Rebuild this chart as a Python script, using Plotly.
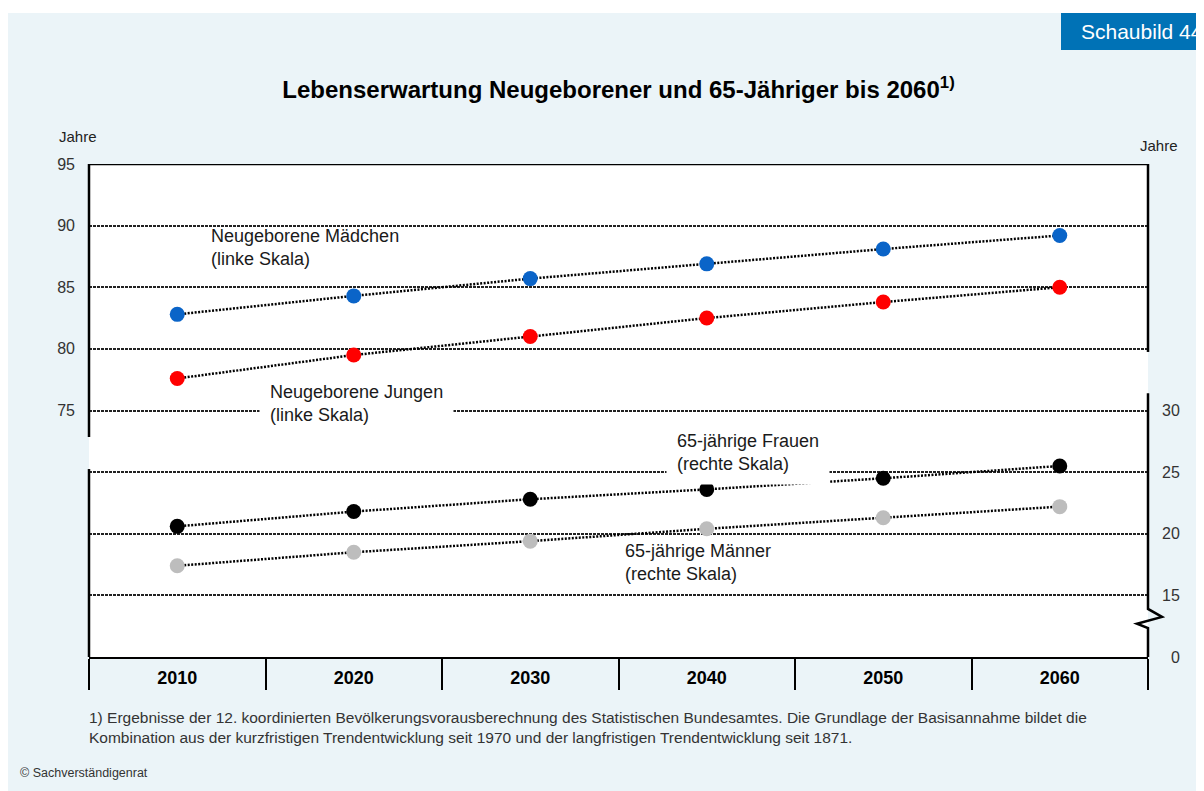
import plotly.graph_objects as go

years = ['2010', '2020', '2030', '2040', '2050', '2060']
maedchen = [82.8, 84.3, 85.7, 86.9, 88.1, 89.2]
jungen = [77.6, 79.5, 81.0, 82.5, 83.8, 85.0]
frauen_65 = [20.6, 21.8, 22.8, 23.6, 24.5, 25.5]
maenner_65 = [17.4, 18.5, 19.4, 20.4, 21.3, 22.2]

left_ticks = [75, 80, 85, 90, 95]
right_ticks = [10, 15, 20, 25, 30]
right_labels = ['\u20070', '15', '20', '25', '30']
lower_grid = [60, 65, 70]

# page offset of the figure (body margin) and plot area in page pixels
OFF = 8
W, H = 1204 - OFF, 791 - OFF
L, R, T, B = 89, 1148, 164, 657


def px(x):
    return (x - L) / (R - L)


def py(y):
    return (B - y) / (B - T)


fig = go.Figure()


def add_series(vals, color, axis):
    fig.add_trace(go.Scatter(
        x=years, y=vals, yaxis=axis,
        mode='lines+markers',
        line=dict(color='black', width=2.5, dash='2px,1.5px'),
        marker=dict(color=color, size=15),
        showlegend=False, hoverinfo='skip',
    ))


add_series(maedchen, '#0A64C8', 'y')
add_series(jungen, '#FF0000', 'y')
add_series(frauen_65, '#000000', 'y2')
add_series(maenner_65, '#BDBDBD', 'y2')

txt = dict(family='Liberation Sans, Arial, sans-serif', size=18, color='#1a1a1a')
labels = [
    ('Neugeborene Mädchen<br>(linke Skala)', 200, 247, None),
    ('Neugeborene Jungen<br>(linke Skala)', 259, 403, 'white'),
    ('65-jährige Frauen<br>(rechte Skala)', 666, 452, 'white'),
    ('65-jährige Männer<br>(rechte Skala)', 614, 562, None),
]
for text, x, y, bg in labels:
    fig.add_annotation(
        text=text, xref='paper', yref='paper', x=px(x), y=py(y),
        xanchor='left', yanchor='middle', align='left', showarrow=False,
        font=txt, bgcolor=bg, borderpad=10,
    )

fig.add_annotation(text='Jahre', xref='paper', yref='paper', x=px(57), y=py(137),
                   xanchor='left', yanchor='middle', showarrow=False,
                   font=dict(size=15, color='#222'))
fig.add_annotation(text='Jahre', xref='paper', yref='paper', x=px(1138), y=py(145),
                   xanchor='left', yanchor='middle', showarrow=False,
                   font=dict(size=15, color='#222'))

fig.add_annotation(
    text='1) Ergebnisse der 12. koordinierten Bevölkerungsvorausberechnung des Statistischen '
         'Bundesamtes. Die Grundlage der Basisannahme bildet die<br>Kombination aus der '
         'kurzfristigen Trendentwicklung seit 1970 und der langfristigen Trendentwicklung seit 1871.',
    xref='paper', yref='paper', x=px(87), y=py(707), xanchor='left', yanchor='top',
    align='left', showarrow=False, font=dict(size=15.5, color='#333'),
)
fig.add_annotation(text='© Sachverständigenrat', xref='paper', yref='paper',
                   x=px(18), y=py(773), xanchor='left', yanchor='middle',
                   showarrow=False, font=dict(size=12.5, color='#333'))

# badge
fig.add_shape(type='rect', xref='paper', yref='paper', x0=px(1061), x1=px(1215),
              y0=py(13), y1=py(50), fillcolor='#0072B6', line_width=0, layer='below')
fig.add_annotation(text='Schaubild 44', xref='paper', yref='paper', x=px(1079), y=py(32),
                   xanchor='left', yanchor='middle', showarrow=False,
                   font=dict(size=21, color='white'))

# white strip above the panel
fig.add_shape(type='rect', xref='paper', yref='paper', x0=px(0), x1=px(1215),
              y0=py(0), y1=py(13), fillcolor='white', line_width=0, layer='below')

# frame and broken axes
ax = dict(color='black', width=2.5)
fig.add_shape(type='line', xref='paper', yref='y', x0=0, x1=1, y0=95, y1=95, line=ax)
fig.add_shape(type='line', xref='paper', yref='y', x0=0, x1=0, y0=95, y1=72.85, line=ax)
fig.add_shape(type='line', xref='paper', yref='y', x0=0, x1=0, y0=70.25, y1=55, line=ax)
fig.add_shape(type='line', xref='paper', yref='y', x0=1, x1=1, y0=95, y1=79.75, line=ax)
fig.add_shape(type='path', xref='paper', yref='y', xsizemode='pixel', xanchor=1,
              path='M0,76.4 L0,58.9 L14,58.25 L-11,57.7 L0,57.35 L0,55', line=ax)

grid = dict(showgrid=True, gridcolor='#222', gridwidth=1.5, griddash='3px,1px')

fig.update_layout(
    width=W, height=H,
    margin=dict(l=L - OFF, r=W - (R - OFF), t=T - OFF, b=H - (B - OFF)),
    paper_bgcolor='#EBF4F8', plot_bgcolor='white',
    font=dict(family='Liberation Sans, Arial, sans-serif', color='#222'),
    title=dict(text='Lebenserwartung Neugeborener und 65-Jähriger bis 2060<sup>1)</sup>',
               x=0.5, xref='paper', xanchor='center', y=1 - (90 - OFF) / H, yref='container',
               yanchor='middle', font=dict(size=24, color='black', weight='bold')),
    showlegend=False,
    xaxis=dict(type='category', range=[-0.5, 5.5], showline=True, linecolor='black',
               linewidth=1.5, ticks='outside', tickson='boundaries', ticklen=31,
               tickwidth=2, tickcolor='black', ticklabelstandoff=4,
               tickfont=dict(size=18, color='black', weight='bold'),
               showgrid=False, zeroline=False),
    yaxis=dict(range=[55, 95], tickvals=left_ticks, **grid,
               showline=False, zeroline=False, ticks='', ticklabelstandoff=13,
               tickfont=dict(size=16, color='#333')),
    yaxis2=dict(overlaying='y', side='right', range=[10, 50], tickvals=right_ticks,
                ticktext=right_labels, showgrid=False, zeroline=False, showline=False,
                ticks='', ticklabelstandoff=13, tickfont=dict(size=16, color='#333')),
    yaxis3=dict(overlaying='y', range=[55, 95], tickvals=lower_grid, **grid,
                showticklabels=False, showline=False, zeroline=False, ticks=''),
)
# empty trace so the grid-only axis is drawn
fig.add_trace(go.Scatter(x=[], y=[], yaxis='y3', showlegend=False, hoverinfo='skip'))

fig.write_html('out.html')
